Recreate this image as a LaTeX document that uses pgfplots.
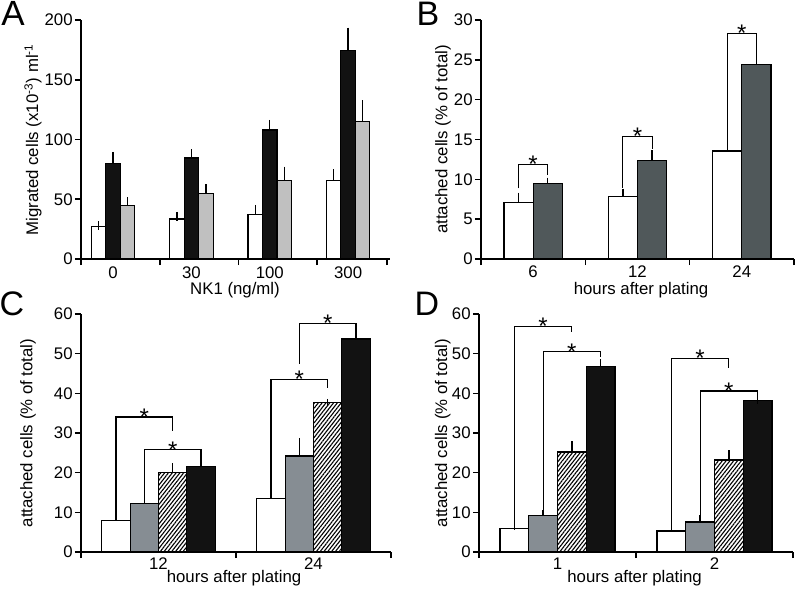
\documentclass[border=0pt]{standalone}
\usepackage{fontspec}
\setmainfont{Liberation Sans}
\usepackage{pgfplots}
\pgfplotsset{compat=1.18}
\usepackage{pgfplotstable}
\usetikzlibrary{patterns,patterns.meta}

\definecolor{agray}{HTML}{C0C0C0}
\definecolor{bdark}{HTML}{50585A}
\definecolor{cgray}{HTML}{868D93}
\definecolor{nblack}{HTML}{121212}

\newcommand{\lblfont}{\fontsize{8.4}{10}\selectfont}

\pgfplotsset{
  panel/.style={
    scale only axis,
    axis lines=left,
    axis line style={-, line width=0.9pt},
    tick align=outside,
    major tick length=3pt,
    tick style={line width=0.8pt, black},
    ymin=0,
    /pgf/number format/assume math mode=true,
    ticklabel style={font=\lblfont},
    label style={font=\lblfont},
    yticklabel style={inner sep=1pt},
    clip=false,
  },
  bars/.style={ybar, bar shift=0pt, draw=black, line width=0.6pt,
    error bars/y dir=plus, error bars/y explicit,
    error bars/error bar style={line width=0.7pt, black},
    error bars/error mark options={line width=0.7pt, mark size=1.5pt, black}},
  bigcap/.style={error bars/error mark options={line width=0.7pt, mark size=2.2pt, black}},
  hatch/.style={fill=white, postaction={pattern={Lines[angle=52,distance=1.5pt,line width=0.55pt]}}},
}

\newcommand{\brk}[6]{%
  \draw[line width=0.6pt] (axis cs:#1,#3) -- (axis cs:#1,#5) -- (axis cs:#2,#5) -- (axis cs:#2,#4);
  \node[font=\fontsize{12}{12}\selectfont, inner sep=0pt, anchor=base, yshift=-4.2pt] at (axis cs:#6,#5) {*};
}

\pgfplotstableread{
x w we k ke g ge
0 27 1.0 79.8 6.2 45 3.0
1 33.5 2.2 84.5 3.5 55 4.0
2 37 4.6 108 4.7 66 7.6
3 66 5.4 174.6 15.4 115 14.0
}\dataA

\pgfplotstableread{
x w we d de
0 7.07 0.88 9.5 0.33
1 7.87 0.58 12.34 0.96
2 13.56 1.54 24.4 2.0
}\dataB

\pgfplotstableread{
x w we g ge h he k ke
0 7.9 1.1 12.3 1.5 20.0 1.6 21.6 1.4
1 13.4 2.7 24.2 3.8 37.7 0.15 53.7 1.8
}\dataC

\pgfplotstableread{
x w we g ge h he k ke
0 5.96 0.3 9.2 0.6 25.2 2.0 46.8 1.0
1 5.3 1.7 7.55 1.05 23.2 1.7 38.1 0.0
}\dataD

\begin{document}
\begin{tikzpicture}
% ---------------- A
\begin{axis}[panel,
  at={(40.5pt,166pt)}, anchor=south west,
  width=154.7pt, height=119.5pt,
  xmin=-0.41, xmax=3.54, ymax=200,
  ytick={0,50,100,150,200},
  xtick={-0.41,0.6,1.6,2.6,3.5}, xticklabels={},
  extra x ticks={0,1,2,3}, extra x tick labels={0,30,100,300},
  extra x tick style={tick style={draw=none}},
  xticklabel style={yshift=2.5pt},
  ylabel={Migrated cells (x10\textsuperscript{-3}) ml\textsuperscript{-1}},
  ylabel style={at={(axis description cs:-0.155,0.5)}, anchor=center},
]
\addplot[bars, bigcap, bar width=0.185, fill=white] table[x expr=\thisrow{x}-0.185,y=w,y error=we]{\dataA};
\addplot[bars, bigcap, bar width=0.185, fill=nblack] table[x=x,y=k,y error=ke]{\dataA};
\addplot[bars, bigcap, bar width=0.185, fill=agray] table[x expr=\thisrow{x}+0.185,y=g,y error=ge]{\dataA};
\end{axis}
% ---------------- B
\begin{axis}[panel,
  at={(240.5pt,166pt)}, anchor=south west,
  width=156.5pt, height=119.5pt,
  xmin=-0.5, xmax=2.5, ymax=30,
  ytick={0,5,10,15,20,25,30},
  xtick={-0.5,0.5,1.5,2.5}, xticklabels={},
  extra x ticks={0,1,2}, extra x tick labels={6,12,24},
  extra x tick style={tick style={draw=none}},
  xticklabel style={yshift=3pt},
  ylabel={attached cells (\% of total)},
  ylabel style={at={(axis description cs:-0.121,0.5)}, anchor=center},
]
\addplot[bars, bar width=0.28, fill=white] table[x expr=\thisrow{x}-0.14,y=w,y error=we]{\dataB};
\addplot[bars, bar width=0.28, fill=bdark] table[x expr=\thisrow{x}+0.14,y=d,y error=de]{\dataB};
\brk{-0.14}{0.14}{8.87}{10.6}{11.9}{0}
\brk{0.86}{1.14}{8.9}{13.8}{15.4}{1}
\brk{1.86}{2.14}{15.4}{26.65}{28.3}{2}
\end{axis}
% ---------------- C
\begin{axis}[panel,
  at={(40.5pt,19.5pt)}, anchor=south west,
  width=155pt, height=119pt,
  xmin=-0.5, xmax=1.5, ymax=60,
  ytick={0,10,20,30,40,50,60},
  xtick={-0.5,0.5,1.5}, xticklabels={},
  extra x ticks={0,1}, extra x tick labels={12,24},
  extra x tick style={tick style={draw=none}},
  xticklabel style={yshift=3.5pt},
  ylabel={attached cells (\% of total)},
  ylabel style={at={(axis description cs:-0.171,0.5)}, anchor=center},
]
\addplot[bars, bar width=0.183, fill=white] table[x expr=\thisrow{x}-0.2745,y=w,y error=we]{\dataC};
\addplot[bars, bar width=0.183, fill=cgray] table[x expr=\thisrow{x}-0.0915,y=g,y error=ge]{\dataC};
\addplot[bars, bar width=0.183, hatch] table[x expr=\thisrow{x}+0.0915,y=h,y error=he]{\dataC};
\addplot[bars, bar width=0.183, fill=nblack] table[x expr=\thisrow{x}+0.2745,y=k,y error=ke]{\dataC};
\brk{-0.2745}{0.0915}{9.0}{30.4}{34.06}{-0.0915}
\brk{-0.0915}{0.2745}{13.8}{23.4}{25.75}{0.0915}
\brk{0.7255}{1.0915}{16.1}{41.4}{43.5}{0.9085}
\brk{0.9085}{1.2745}{47.4}{55.7}{57.7}{1.0915}
\end{axis}
% ---------------- D
\begin{axis}[panel,
  at={(239.5pt,19.5pt)}, anchor=south west,
  width=157pt, height=119pt,
  xmin=-0.5, xmax=1.5, ymax=60,
  ytick={0,10,20,30,40,50,60},
  xtick={-0.5,0.5,1.5}, xticklabels={},
  extra x ticks={0,1}, extra x tick labels={1,2},
  extra x tick style={tick style={draw=none}},
  xticklabel style={yshift=3.5pt},
  ylabel={attached cells (\% of total)},
  ylabel style={at={(axis description cs:-0.115,0.5)}, anchor=center},
]
\addplot[bars, bar width=0.183, fill=white] table[x expr=\thisrow{x}-0.2745,y=w,y error=we]{\dataD};
\addplot[bars, bar width=0.183, fill=cgray] table[x expr=\thisrow{x}-0.0915,y=g,y error=ge]{\dataD};
\addplot[bars, bar width=0.183, hatch] table[x expr=\thisrow{x}+0.0915,y=h,y error=he]{\dataD};
\addplot[bars, bar width=0.183, fill=nblack] table[x expr=\thisrow{x}+0.2745,y=k,y error=ke]{\dataD};
\brk{-0.2745}{0.0915}{6.3}{55.4}{56.9}{-0.0915}
\brk{-0.0915}{0.2745}{9.8}{49.2}{50.5}{0.0915}
\brk{0.7255}{1.0915}{7.0}{46.5}{48.8}{0.9085}
\brk{0.9085}{1.2745}{8.6}{38.8}{40.6}{1.0915}
\end{axis}
% x-axis titles
\node[font=\lblfont, inner sep=0pt] at (117.5pt,150.5pt) {NK1 (ng/ml)};
\node[font=\lblfont, inner sep=0pt] at (320.5pt,150.3pt) {hours after plating};
\node[font=\lblfont, inner sep=0pt] at (117pt,6.5pt) {hours after plating};
\node[font=\lblfont, inner sep=0pt] at (317.3pt,6.5pt) {hours after plating};
% panel letters
\node[font=\fontsize{17.5}{17.5}\selectfont, inner sep=0pt] at (6.5pt,289pt) {A};
\node[font=\fontsize{17}{17}\selectfont, inner sep=0pt] at (214pt,288.5pt) {B};
\node[font=\fontsize{17}{17}\selectfont, inner sep=0pt] at (6pt,143.5pt) {C};
\node[font=\fontsize{17}{17}\selectfont, inner sep=0pt] at (213.5pt,143.5pt) {D};
\pgfresetboundingbox
\useasboundingbox (0,0) rectangle (400pt,295.5pt);
\end{tikzpicture}
\end{document}
